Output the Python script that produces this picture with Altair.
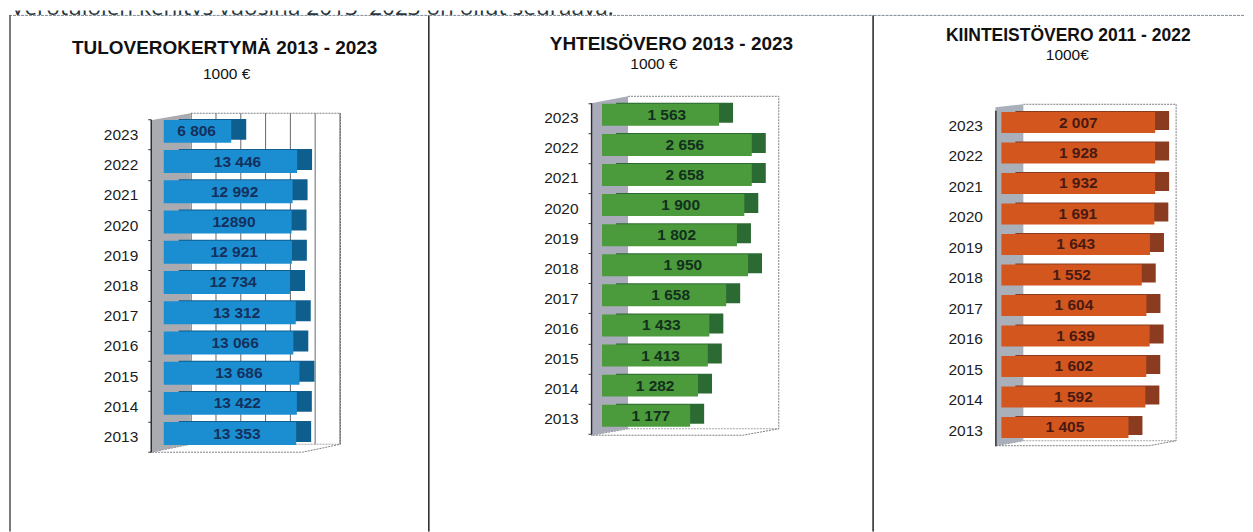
import altair as alt
import pandas as pd

years = [2023, 2022, 2021, 2020, 2019, 2018, 2017, 2016, 2015, 2014, 2013]

income_values = [6806, 13446, 12992, 12890, 12921, 12734, 13312, 13066, 13686, 13422, 13353]
income_labels = ["6 806", "13 446", "12 992", "12890", "12 921", "12 734", "13 312", "13 066", "13 686", "13 422", "13 353"]

corporate_values = [1563, 2656, 2658, 1900, 1802, 1950, 1658, 1433, 1413, 1282, 1177]
corporate_labels = ["1 563", "2 656", "2 658", "1 900", "1 802", "1 950", "1 658", "1 433", "1 413", "1 282", "1 177"]

property_values = [2007, 1928, 1932, 1691, 1643, 1552, 1604, 1639, 1602, 1592, 1405]
property_labels = ["2 007", "1 928", "1 932", "1 691", "1 643", "1 552", "1 604", "1 639", "1 602", "1 592", "1 405"]

income_grid = [0, 2500, 5000, 7500, 10000, 12500, 15000]

HEADING = "Verotulojen kehitys vuosina 2013–2023 on ollut seuraava:"
FONT = "Liberation Sans"
ROW_TOP = 15   # page y at which the panels row starts
H = 517


def panel(cfg):
    ox = cfg["left"]
    X = lambda p: p - ox
    Y = lambda p: p - ROW_TOP
    dmax = cfg["dmax"]
    df = pd.DataFrame({
        "year": years,
        "v": cfg["values"],
        "zero": 0,
        "label": cfg["labels"],
        "lx": [min(v, dmax) * cfg["frac"] for v in cfg["values"]],
    })
    xs = alt.Scale(domain=[0, dmax], range=[X(cfg["x0"]), X(cfg["x1"])], clamp=True)
    ys = alt.Scale(domain=years, range=[Y(cfg["bt"]), Y(cfg["bb"])], paddingInner=0, paddingOuter=0)
    xf = alt.X("v:Q", scale=xs, axis=None)
    x2f = alt.X2("zero:Q")
    yplain = alt.Y("year:O", scale=ys, sort=None, axis=None)
    layers = []
    lw, rw, rb, t0, t1, b0, b1, ff = (cfg[k] for k in ["lw", "rw", "rb", "t0", "t1", "b0", "b1", "ff"])

    # back wall outline and floor
    outline = pd.DataFrame({
        "i": range(6),
        "x": [X(p) for p in [rw, rb, rb, ff, lw, rw]],
        "y": [Y(p) for p in [t1, t1, b1, b0, b0, b1]],
    })
    layers.append(alt.Chart(outline).mark_line(color="#6d7075", strokeWidth=0.9, strokeDash=[2, 1]).encode(
        x=alt.X("x:Q", scale=None, axis=None), y=alt.Y("y:Q", scale=None, axis=None), order="i:Q"))
    floor = pd.DataFrame({"x": [X(rw), X(rb)], "y": [Y(b1), Y(b1)]})
    layers.append(alt.Chart(floor).mark_line(color="#8a8d91", strokeWidth=0.8, strokeDash=[2, 1]).encode(
        x=alt.X("x:Q", scale=None, axis=None), y=alt.Y("y:Q", scale=None, axis=None)))

    if cfg["grid"]:
        gd = pd.DataFrame({"g": cfg["grid"]})
        layers.append(alt.Chart(gd).mark_rule(color="#55585c", strokeWidth=0.9, xOffset=cfg["gridshift"]).encode(
            x=alt.X("g:Q", scale=xs, axis=None), y=alt.value(Y(t1)), y2=alt.value(Y(b1))))

    # grey side wall
    wall = pd.DataFrame({"x": [X(lw), X(rw)], "y": [Y(t0), Y(t1)], "y2": [Y(b0), Y(b1)]})
    layers.append(alt.Chart(wall).mark_area(color=cfg["wall"], opacity=1).encode(
        x=alt.X("x:Q", scale=None, axis=None),
        y=alt.Y("y:Q", scale=None, axis=None),
        y2="y2:Q"))

    d = cfg["depth"]
    layers.append(alt.Chart(df).mark_bar(
        color=cfg["side"], size=cfg["barh"] - 2, xOffset=d, x2Offset=d, yOffset=cfg["yoff"] - 2, y2Offset=cfg["yoff"] - 2
    ).encode(x=xf, x2=x2f, y=yplain))
    layers.append(alt.Chart(df).mark_bar(
        color=cfg["front"], size=cfg["barh"], yOffset=cfg["yoff"], y2Offset=cfg["yoff"]
    ).encode(
        x=xf, x2=x2f,
        y=alt.Y("year:O", scale=ys, sort=None, title=None, axis=alt.Axis(
            offset=-X(lw), tickBand="extent", tickSize=cfg["tick"], tickColor="#333333", tickWidth=1,
            domainColor="#2a2a2a", domainWidth=1.4, grid=False, labelFont=FONT, labelFontSize=15.5,
            labelColor="#1c1c1c", labelPadding=cfg["lpad"] - cfg["tick"], zindex=1)),
    ))
    layers.append(alt.Chart(df).mark_text(
        font=FONT, fontWeight="bold", fontSize=15.5, color=cfg["ink"], align="center", baseline="middle",
        xOffset=cfg["lshift"], yOffset=cfg["yoff"]
    ).encode(x=alt.X("lx:Q", scale=xs, axis=None), y=yplain, text="label:N"))

    for txt, px, py, size, w in cfg["titles"]:
        layers.append(alt.Chart(alt.Data(values=[{"t": txt}])).mark_text(
            font=FONT, fontSize=size, fontWeight=w, color="#111111", align="center", baseline="middle"
        ).encode(x=alt.value(X(px)), y=alt.value(Y(py)), text="t:N"))

    # panel frame
    layers.append(alt.Chart(alt.Data(values=[{"a": 0}])).mark_rule(color="#7d8a96", strokeWidth=1, strokeDash=[3, 1]).encode(
        x=alt.value(0), x2=alt.value(cfg["w"]), y=alt.value(0)))
    if cfg["border"]:
        layers.append(alt.Chart(alt.Data(values=[{"a": 0}])).mark_rule(color="#222222", strokeWidth=1.5).encode(
            x=alt.value(cfg["w"] - 0.5), y=alt.value(0), y2=alt.value(H)))
    if cfg.get("leftline"):
        layers.append(alt.Chart(alt.Data(values=[{"a": 0}])).mark_rule(color="#222222", strokeWidth=1.2).encode(
            x=alt.value(X(9)), y=alt.value(0), y2=alt.value(H)))

    return alt.layer(*layers).resolve_scale(x="independent", y="independent").properties(
        width=cfg["w"], height=H, view=alt.ViewConfig(stroke=None))


p1 = panel(dict(
    left=8, w=421, values=income_values, labels=income_labels, dmax=15000, x0=163, x1=312,
    bt=119, bb=452, lw=150, rw=190, rb=340, t0=120, t1=113, b0=452.5, b1=444.5, ff=302,
    grid=income_grid, gridshift=27.5, wall="#a9abb0", front="#1b8ed2", side="#0f5f8e",
    ink="#14305c", depth=15, barh=23, yoff=-3, tick=3, lpad=13, frac=0.62, lshift=-9,
    titles=[("TULOVEROKERTYMÄ 2013 - 2023", 224, 48, 19, "bold"), ("1000 €", 226, 74, 15.5, "normal")],
    border=True, leftline=True,
))
p2 = panel(dict(
    left=429, w=445, values=corporate_values, labels=corporate_labels, dmax=2000, x0=602, x1=752,
    bt=102.5, bb=434, lw=591, rw=628, rb=779, t0=103, t1=96, b0=435.5, b1=429, ff=743,
    grid=[], gridshift=0, wall="#a9abba", front="#4b9a3c", side="#2c6a33",
    ink="#12301c", depth=14, barh=22, yoff=-3, tick=3, lpad=13, frac=0.553, lshift=0,
    titles=[("YHTEISÖVERO 2013 - 2023", 671.5, 44, 19, "bold"), ("1000 €", 654, 64, 15.5, "normal")],
    border=True,
))
p3 = panel(dict(
    left=874, w=371, values=property_values, labels=property_labels, dmax=1700, x0=1002, x1=1156,
    bt=110, bb=446, lw=996, rw=1024, rb=1177, t0=107, t1=104, b0=446, b1=441, ff=1150,
    grid=[], gridshift=0, wall="#a9b0ba", front="#d2561e", side="#8b3b1f",
    ink="#4a1a12", depth=14, barh=21, yoff=-3, tick=0, lpad=13, frac=0.5, lshift=0,
    titles=[("KIINTEISTÖVERO  2011 - 2022", 1069, 36, 17.5, "bold"), ("1000€", 1068, 55, 15.5, "normal")],
    border=False,
))

head = alt.Chart(alt.Data(values=[{"t": HEADING}])).mark_text(
    font="Open Sans", fontSize=22.6, color="#26343a", align="left", baseline="alphabetic", clip=True
).encode(x=alt.value(2), y=alt.value(4.5), text="t:N").properties(width=1237, height=5)

row = alt.hconcat(p1, p2, p3, spacing=0, bounds="flush")
chart = alt.vconcat(head, row, spacing=0, bounds="flush").properties(padding=0, background="white").configure_view(stroke=None)
chart.save("out.html", embed_options={"renderer": "svg", "actions": False})
